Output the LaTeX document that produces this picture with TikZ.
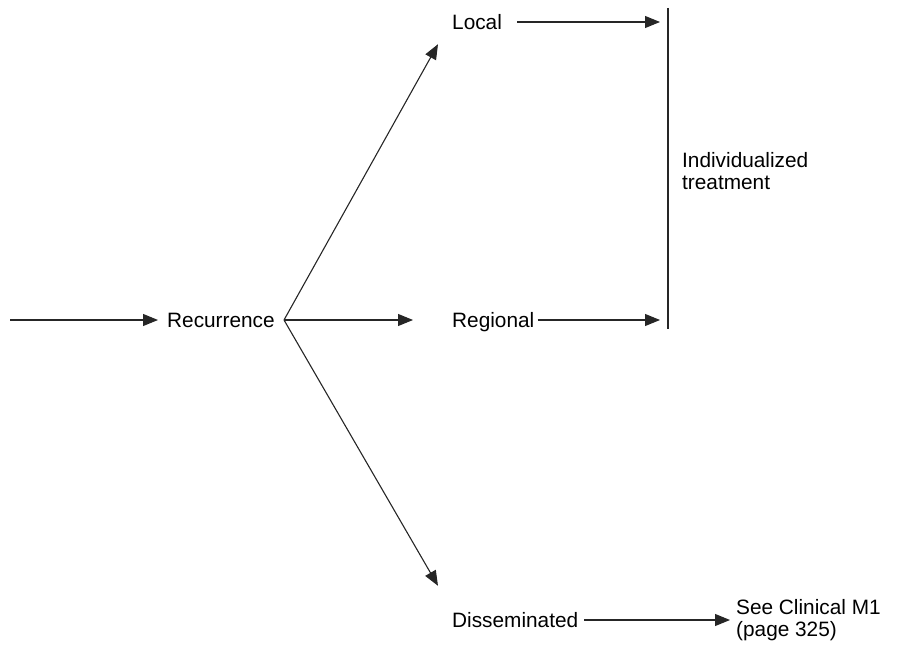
\documentclass[tikz,border=0pt]{standalone}
\usepackage{fontspec}
\setmainfont{Liberation Sans}
\usetikzlibrary{arrows.meta,calc}
\begin{document}
\begin{tikzpicture}[x=1pt,y=-1pt,
  lbl/.style={anchor=west,inner sep=0pt,text height=15pt,text depth=0pt,font=\fontsize{20.8}{22}\selectfont},
  mlbl/.style={anchor=west,inner sep=0pt,align=left,font=\fontsize{20.8}{22}\selectfont},
  conn/.style={line width=1.1pt,draw=black!85},
  arr/.style={conn,-{Triangle[length=15pt,width=12pt]}}]
\useasboundingbox (0,0) rectangle (899,647);
\coordinate (start) at (10,320);
\coordinate (v) at (284,320);
\coordinate (bt) at (668,8);
\coordinate (bb) at (668,329);
\node[lbl] (rec) at (167,320) {Recurrence};
\node[lbl] (local) at (452,22) {Local};
\node[lbl] (reg) at (452,320) {Regional};
\node[lbl] (dis) at (452,620) {Disseminated};
\node[mlbl] (ind) at (682,171) {Individualized\\treatment};
\node[mlbl] (see) at (736,620) {See Clinical M1\\(page 325)};
\draw[arr] (start) -- ($(rec.west)+(-9,0)$);
\draw[conn] ($(rec.east)+(9,0)$) -- (v);
\draw[arr] (v) -- ($(local.south west)+(-14,14.5)$);
\draw[arr] (v) -- ($(reg.west)+(-39,0)$);
\draw[arr] (v) -- ($(dis.north west)+(-14,-26.5)$);
\draw[arr] ($(local.east)+(15,0)$) -- ($(local.east -| bt)+(-8,0)$);
\draw[arr] ($(reg.east)+(3,0)$) -- ($(reg.east -| bt)+(-8,0)$);
\draw[arr] ($(dis.east)+(6,0)$) -- ($(see.west)+(-6,0)$);
\draw[conn] (bt) -- (bb);
\end{tikzpicture}
\end{document}
